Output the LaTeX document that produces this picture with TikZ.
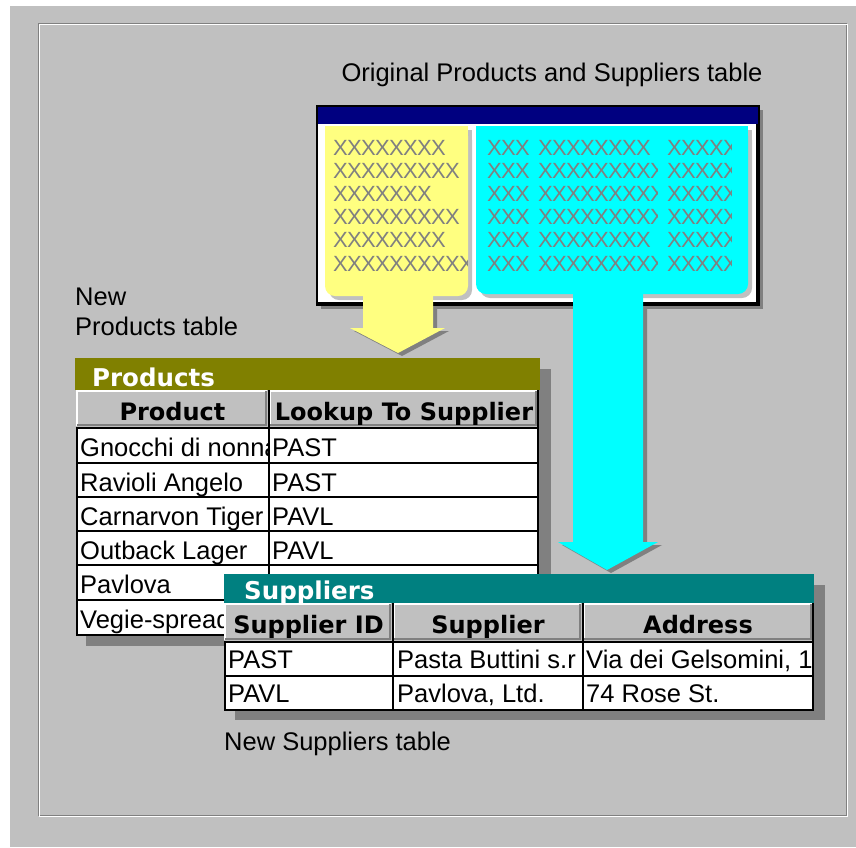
\documentclass[tikz,border=0pt]{standalone}
\usepackage{fontspec}
\setmainfont{Liberation Sans}
\newfontfamily\hdfont{DejaVu Sans}
\definecolor{wgray}{HTML}{C0C0C0}
\definecolor{dgray}{HTML}{808080}
\definecolor{cnavy}{HTML}{000080}
\definecolor{colive}{HTML}{808000}
\definecolor{cteal}{HTML}{008080}
\definecolor{ccyan}{HTML}{00FFFF}
\definecolor{ylw}{HTML}{FFFF80}
\tikzset{
  reg/.style={font=\fontsize{25.5}{30}\selectfont, inner sep=0, anchor=base west},
  hdr/.style={font=\hdfont\bfseries\fontsize{24}{28}\selectfont, inner sep=0, anchor=base},
  ttl/.style={font=\hdfont\bfseries\fontsize{24.5}{28}\selectfont, text=white, inner sep=0, anchor=base west},
  xch/.style={font=\fontsize{22}{24}\selectfont, text=dgray, inner sep=0, anchor=base west},
  grid/.style={black, line width=2},
}
\newcommand\hdcell[4]{%
  \fill[wgray] (#1,#2) rectangle (#3,#4);
  \draw[white,line width=1.5] (#1+1,#4-2) -- (#1+1,#2+1) -- (#3-2,#2+1);
  \draw[dgray,line width=1.5] (#1+1,#4-3) -- (#3-3,#4-3) -- (#3-3,#2+1);
}
\newcommand\ctxt[6]{%
  \begin{scope}
    \clip (#1,#3) rectangle (#2,#3+36);
    \node[reg] (#4) at (#5,#3+28) {#6};
  \end{scope}}
\newcommand\stxt[6]{%
  \begin{scope}
    \clip (#1,#3) rectangle (#2,#3+36);
    \node[reg] (#4) at (#5,#3+26) {#6};
  \end{scope}}
\begin{document}
\begin{tikzpicture}[x=1pt,y=-1pt]
\useasboundingbox (0,0) rectangle (856,847);
\fill[white] (0,0) rectangle (856,847);
\fill[wgray] (10,6) rectangle (856,847);
% etched frame
\draw[dgray, line width=1.2] (38.5,23.5) rectangle (846.5,815.5);
\draw[white, line width=1.2] (39.7,24.7) rectangle (847.7,816.7);

\node[reg, anchor=base] (otitle) at (552,81) {Original Products and Suppliers table};

% original window
\fill[dgray] (321,110) rectangle (763,309);
\fill[white] (317,106) rectangle (759,305);
\fill[cnavy] (317,106) rectangle (759,124);
\draw[black, line width=1.5] (317,106) rectangle (759,305);
\draw[black, line width=3] (757.5,124) -- (757.5,303.5) -- (317,303.5);

% column shadows
\fill[wgray, rounded corners=10] (329,130) rectangle (472,300);
\fill[wgray] (329,130) rectangle (472,160);
\fill[wgray, rounded corners=10] (480,130) rectangle (752,298);
\fill[wgray] (480,130) rectangle (752,160);
% columns
\fill[ylw, rounded corners=10] (325,126) rectangle (468,296);
\fill[ylw] (325,126) rectangle (468,160);
\fill[ccyan, rounded corners=10] (476,126) rectangle (748,294);
\fill[ccyan] (476,126) rectangle (748,160);

% X placeholders
\begin{scope}
  \clip (325,126) rectangle (467,296);
  \foreach \n [count=\i from 0] in {8,9,7,9,8,10} {
    \foreach \k in {1,...,\n} {
      \node[xch] (ya\i-\k) at ({333+14*(\k-1)}, {155+23.2*\i}) {X};
    }
  }
\end{scope}
\foreach \i in {0,...,5} {
  \foreach \k in {1,2,3} {
    \node[xch] (ca\i-\k) at ({487+14*(\k-1)}, {155+23.2*\i}) {X};
  }
}
\begin{scope}
  \clip (538,126) rectangle (657,296);
  \foreach \n [count=\i from 0] in {8,9,9,9,8,9} {
    \foreach \k in {1,...,\n} {
      \node[xch] (cb\i-\k) at ({538+14*(\k-1)}, {155+23.2*\i}) {X};
    }
  }
\end{scope}
\begin{scope}
  \clip (667,126) rectangle (731,296);
  \foreach \i in {0,...,5} {
    \foreach \k in {1,...,5} {
      \node[xch] (cc\i-\k) at ({667+14*(\k-1)}, {155+23.2*\i}) {X};
    }
  }
\end{scope}

% arrow shadows
\begin{scope}
  \clip (300,306.5) rectangle (700,600);
  \fill[dgray] (367,300) -- (367,331) -- (354,331) -- (402,356) -- (449,331) -- (437,331) -- (437,300) -- cycle;
  \fill[dgray] (577,300) -- (577,545) -- (562,545) -- (611,573) -- (662,545) -- (647,545) -- (647,300) -- cycle;
\end{scope}
% arrows
\fill[ylw] (363,288) -- (363,328) -- (350,328) -- (398,353) -- (445,328) -- (433,328) -- (433,288) -- cycle;
\fill[ccyan] (573,286) -- (573,542) -- (558,542) -- (607,570) -- (658,542) -- (643,542) -- (643,286) -- cycle;

% labels
\node[reg] (lnew) at (75,305) {New};
\node[reg] (lprod) at (75,335) {Products table};

% Products table
\fill[dgray] (86,369) rectangle (551,646);
\fill[colive] (75,358) rectangle (540,390);
\node[ttl] (ptitle) at (92,386) {Products};
\hdcell{76}{390}{269}{428}
\hdcell{269}{390}{539}{428}
\fill[white] (77,428) rectangle (538,635);
\foreach \y in {428,463,497,531,565,600,635} { \draw[grid] (76,\y) -- (539,\y); }
\draw[grid] (77,427) -- (77,636);
\draw[grid] (269,390) -- (269,636);
\draw[grid] (538,390) -- (538,636);
\node[hdr] (hprod) at (172.5,420) {Product};
\node[hdr] (hlook) at (404,420) {Lookup To Supplier};
\ctxt{78}{268}{428}{p1a}{80}{Gnocchi di nonna}
\ctxt{270}{537}{428}{p1b}{272}{PAST}
\ctxt{78}{268}{463}{p2a}{80}{Ravioli Angelo}
\ctxt{270}{537}{463}{p2b}{272}{PAST}
\ctxt{78}{268}{497}{p3a}{80}{Carnarvon Tiger}
\ctxt{270}{537}{497}{p3b}{272}{PAVL}
\ctxt{78}{268}{531}{p4a}{80}{Outback Lager}
\ctxt{270}{537}{531}{p4b}{272}{PAVL}
\ctxt{78}{268}{565}{p5a}{80}{Pavlova}
\ctxt{78}{268}{600}{p6a}{80}{Vegie-spread}

% Suppliers table
\fill[dgray] (235,585) rectangle (825,720);
\fill[cteal] (224,574) rectangle (814,603);
\node[ttl] (stitle) at (244,599) {Suppliers};
\hdcell{224}{603}{393}{642}
\hdcell{393}{603}{583}{642}
\hdcell{583}{603}{814}{642}
\fill[white] (225,642) rectangle (813,710);
\foreach \y in {642,676,710} { \draw[grid] (224,\y) -- (814,\y); }
\draw[grid] (225,641) -- (225,711);
\draw[grid] (393,603) -- (393,711);
\draw[grid] (583,603) -- (583,711);
\draw[grid] (813,603) -- (813,711);
\node[hdr] (hsid) at (308.5,633) {Supplier ID};
\node[hdr] (hsup) at (488,633) {Supplier};
\node[hdr] (hadr) at (698,633) {Address};
\stxt{226}{392}{642}{s1a}{228}{PAST}
\stxt{394}{582}{642}{s1b}{397}{Pasta Buttini s.r}
\stxt{584}{812}{642}{s1c}{586}{Via dei Gelsomini, 153}
\stxt{226}{392}{676}{s2a}{228}{PAVL}
\stxt{394}{582}{676}{s2b}{397}{Pavlova, Ltd.}
\stxt{584}{812}{676}{s2c}{586}{74 Rose St.}

\node[reg] (lsup) at (224,750) {New Suppliers table};
\end{tikzpicture}
\end{document}
